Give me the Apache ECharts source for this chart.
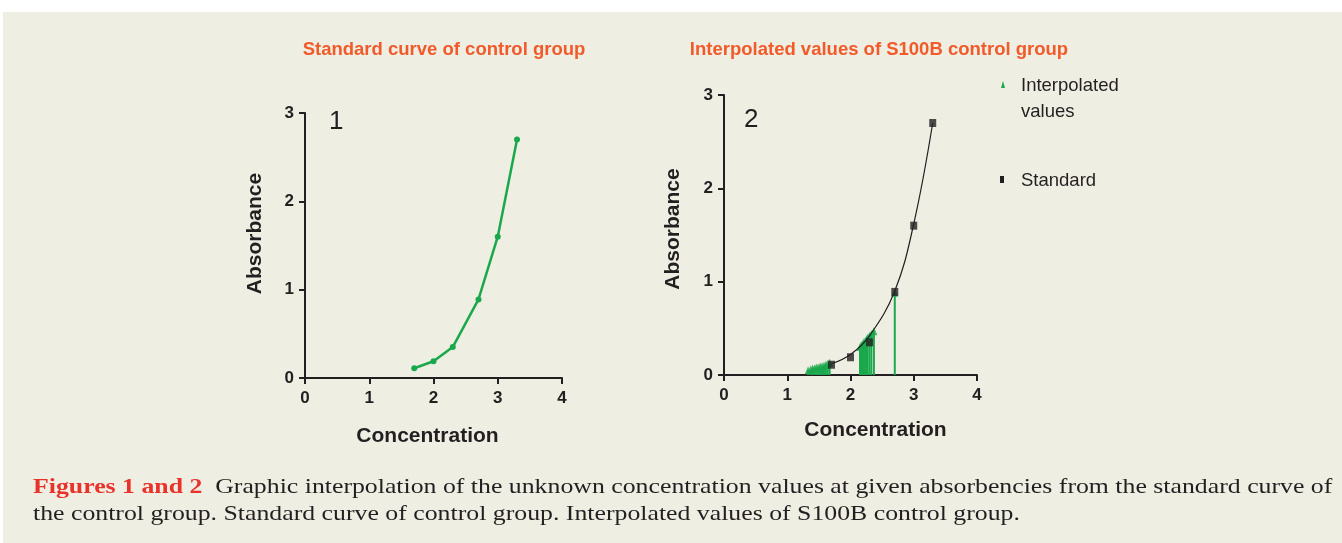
<!DOCTYPE html>
<html>
<head>
<meta charset="utf-8">
<script src="https://cdn.jsdelivr.net/npm/echarts@6/dist/echarts.min.js"></script>
<style>
html,body{margin:0;padding:0;background:#fff;}
#main{width:1342px;height:543px;}
</style>
</head>
<body>
<div id="main"></div>
<script>
// standard curve (figure 1 and squares of figure 2)
const stdConc=[1.7,2.0,2.3,2.7,3.0,3.3];
const stdAbs=[0.11,0.19,0.35,0.89,1.6,2.7];
// fitted curve of figure 2, read at a few points
const fitConc=[1.7,2.0,2.3,2.7,3.0,3.3];
const fitAbs=[0.12,0.22,0.42,0.9,1.62,2.7];
// interpolated unknowns
const interpConc=[1.33,1.37,1.40,1.43,1.46,1.49,1.52,1.55,1.58,1.61,1.64,1.67,
    2.15,2.17,2.19,2.21,2.23,2.25,2.27,2.30,2.33,2.37,2.70];
const interpAbs=[0.05,0.06,0.07,0.07,0.08,0.08,0.09,0.09,0.10,0.11,0.12,0.13,
    0.30,0.32,0.33,0.35,0.36,0.38,0.40,0.42,0.44,0.47,0.88];
const xTicks=[0,1,2,3,4];
const yTicks=[0,1,2,3];

const green='#1aa84c';
const titleColor='#f15a29';
const bk='#efeee3';
const ink='#231f20';
const sans='"Liberation Sans", Arial, sans-serif';
const serif='"Liberation Serif", "Times New Roman", serif';

const zip=(a,b)=>a.map((v,i)=>[v,b[i]]);

function xAxisOf(gi,gap,pad){
    return {
        gridIndex:gi,type:'value',min:xTicks[0],max:xTicks[xTicks.length-1],interval:1,
        name:'Concentration',nameLocation:'middle',nameGap:gap,
        nameTextStyle:{fontFamily:sans,fontSize:21,fontWeight:'bold',color:ink,padding:pad},
        axisLine:{lineStyle:{color:ink,width:2}},
        axisTick:{show:true,length:6,lineStyle:{color:ink,width:2}},
        axisLabel:{fontFamily:sans,fontSize:17,fontWeight:'bold',color:ink,margin:12},
        splitLine:{show:false}
    };
}
function yAxisOf(gi,gap,pad){
    return {
        gridIndex:gi,type:'value',min:yTicks[0],max:yTicks[yTicks.length-1],interval:1,
        name:'Absorbance',nameLocation:'middle',nameGap:gap,
        nameTextStyle:{fontFamily:sans,fontSize:21,fontWeight:'bold',color:ink,padding:pad},
        axisLine:{show:true,lineStyle:{color:ink,width:2}},
        axisTick:{show:true,length:6,lineStyle:{color:ink,width:2}},
        axisLabel:{fontFamily:sans,fontSize:17,fontWeight:'bold',color:ink,margin:11},
        splitLine:{show:false}
    };
}

var myChart=echarts.init(document.getElementById('main'));
var option={
    backgroundColor:'#fff',
    animation:false,
    title:[{
        text:'Standard curve of control group',left:439,top:35,textAlign:'center',
        textStyle:{fontFamily:sans,fontSize:18.5,fontWeight:'bold',color:titleColor}
    },{
        text:'Interpolated values of S100B control group',left:874,top:35,textAlign:'center',
        textStyle:{fontFamily:sans,fontSize:18.5,fontWeight:'bold',color:titleColor}
    }],
    grid:[
        {left:305,top:113,width:257,height:265},
        {left:724,top:95,width:253,height:280}
    ],
    xAxis:[xAxisOf(0,48,[0,12,0,0]),xAxisOf(1,45,[0,0,0,50])],
    yAxis:[yAxisOf(0,39,[0,0,0,24]),yAxisOf(1,40,[0,0,0,12])],
    graphic:[
        {type:'rect',z:-10,shape:{x:3,y:12,width:1339,height:531},style:{fill:bk}},
        {type:'text',left:329,top:109,style:{text:'1',font:'26px '+sans,fill:ink}},
        {type:'text',left:744,top:107,style:{text:'2',font:'26px '+sans,fill:ink}},
        // legend of figure 2
        {type:'polygon',shape:{points:[[1001,88],[1005,88],[1003,81]]},style:{fill:green}},
        {type:'text',left:1021,top:73,style:{text:'Interpolated\nvalues',font:'18.5px '+sans,fill:ink,lineHeight:26}},
        {type:'rect',shape:{x:1000,y:176,width:4,height:7},style:{fill:ink}},
        {type:'text',left:1021,top:171,style:{text:'Standard',font:'18.5px '+sans,fill:ink}},
        // caption
        {type:'text',x:33,y:474,scaleX:1.228,style:{
            text:'{r|Figures 1 and 2}  Graphic interpolation of the unknown concentration values at given absorbencies from the standard curve of\nthe control group. Standard curve of control group. Interpolated values of S100B control group.',
            fontFamily:serif,fontSize:21,fill:ink,lineHeight:27,
            rich:{r:{fontFamily:serif,fontSize:21,fontWeight:'bold',fill:'#e8322b',lineHeight:27}}
        }}
    ],
    series:[
        {
            type:'line',xAxisIndex:0,yAxisIndex:0,data:zip(stdConc,stdAbs),
            symbol:'circle',symbolSize:6,
            lineStyle:{color:green,width:2.5},itemStyle:{color:green}
        },
        {
            type:'custom',xAxisIndex:1,yAxisIndex:1,data:zip(interpConc,interpAbs),
            renderItem:function(params,api){
                var p0=api.coord([api.value(0),0]);
                var p1=api.coord([api.value(0),api.value(1)]);
                return {type:'line',shape:{x1:p0[0],y1:p0[1],x2:p1[0],y2:p1[1]},
                    style:{stroke:green,lineWidth:2}};
            }
        },
        {
            type:'scatter',xAxisIndex:1,yAxisIndex:1,data:zip(interpConc,interpAbs),
            symbol:'triangle',symbolSize:[7,8],itemStyle:{color:green}
        },
        {
            type:'line',xAxisIndex:1,yAxisIndex:1,data:zip(fitConc,fitAbs),
            smooth:0.4,showSymbol:false,symbol:'none',
            lineStyle:{color:ink,width:1.2},z:3
        },
        {
            type:'scatter',xAxisIndex:1,yAxisIndex:1,data:zip(stdConc,stdAbs),
            symbol:'rect',symbolSize:[7,8],itemStyle:{color:ink},z:4
        }
    ]
};
myChart.setOption(option);
</script>
</body>
</html>
